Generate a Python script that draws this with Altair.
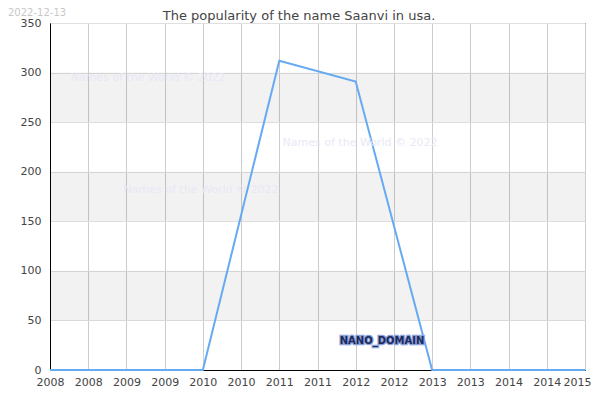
import altair as alt
import pandas as pd

years = [2008, 2009, 2010, 2011, 2012, 2013, 2014, 2015]
counts = [0, 0, 0, 312, 291, 0, 0, 0]

band_lo = [50, 150, 250]
band_hi = [100, 200, 300]

x_ticks = [2008 + 0.5 * i for i in range(15)]
y_ticks = [0, 50, 100, 150, 200, 250, 300, 350]

title_text = "The popularity of the name Saanvi in usa."
date_text = "2022-12-13"
wm_text = "Names of the World © 2022"
brand_text = "NANO_DOMAIN"

W, H = 535, 347

df = pd.DataFrame({"year": years, "count": counts})
bands = pd.DataFrame({"lo": band_lo, "hi": band_hi})

xscale = alt.Scale(domain=[2008, 2015], nice=False, zero=False)
yscale = alt.Scale(domain=[0, 350], nice=False)

band_layer = alt.Chart(bands).mark_rect(color="black", opacity=0.05).encode(
    y=alt.Y("lo:Q", scale=yscale),
    y2="hi:Q",
    x=alt.value(0),
    x2=alt.value(W),
)

line = alt.Chart(df).mark_line(color="#66aaf2", strokeWidth=2).encode(
    x=alt.X(
        "year:Q",
        scale=xscale,
        axis=alt.Axis(
            title=None,
            values=x_ticks,
            labelExpr="floor(datum.value)",
            labelAlign=alt.ExprRef("datum.value >= 2015 ? 'right' : 'center'"),
            labelOffset=alt.ExprRef("datum.value >= 2015 ? 6 : 0"),
            grid=True,
            gridColor="#cccccc",
            ticks=False,
            labelPadding=6,
            labelFontSize=11,
            labelColor="#444444",
            labelFont="DejaVu Sans",
            domainColor="black",
            labelFlush=False,
        ),
    ),
    y=alt.Y(
        "count:Q",
        scale=yscale,
        axis=alt.Axis(
            title=None,
            values=y_ticks,
            grid=True,
            gridColor="#e0e0e0",
            ticks=False,
            labelPadding=9,
            labelFontSize=11,
            labelColor="#444444",
            labelFont="DejaVu Sans",
            domainColor="black",
        ),
    ),
)


def txt(text, x, y, **kw):
    return alt.Chart(pd.DataFrame({"t": [text]})).mark_text(**kw).encode(
        text="t:N", x=alt.value(x), y=alt.value(y)
    )


title = txt(title_text, 249, -7, font="DejaVu Sans", fontSize=13, color="#444444", align="center", baseline="middle")
date = txt(date_text, -42, -15, font="DejaVu Sans", fontSize=10, color="#c8c8c8", align="left", baseline="top")
wm1 = txt(wm_text, 98, 55, font="DejaVu Sans", fontSize=11, color="#e8e8f6", align="center", baseline="middle")
wm2 = txt(wm_text, 310, 120, font="DejaVu Sans", fontSize=11, color="#e8e8f6", align="center", baseline="middle")
wm3 = txt(wm_text, 151, 167, font="DejaVu Sans", fontSize=11, color="#e8e8f6", align="center", baseline="middle")
brand_bg = txt(brand_text, 332, 318, font="DejaVu Sans", fontSize=10, fontWeight="bold", color="#8aa0d8",
               stroke="#8aa0d8", strokeWidth=2.5, align="center", baseline="middle")
brand = txt(brand_text, 332, 318, font="DejaVu Sans", fontSize=10, fontWeight="bold", color="#1c2a5c",
            align="center", baseline="middle")

chart = alt.layer(band_layer, line, wm1, wm2, wm3, brand_bg, brand, title, date).properties(
    width=W,
    height=H,
    autosize=alt.AutoSizeParams(type="none"),
    padding={"left": 42, "top": 15, "right": 7, "bottom": 22},
    background="white",
).configure_view(stroke="black", strokeWidth=1)

chart.save("out.html", embed_options={"renderer": "svg", "actions": False})
